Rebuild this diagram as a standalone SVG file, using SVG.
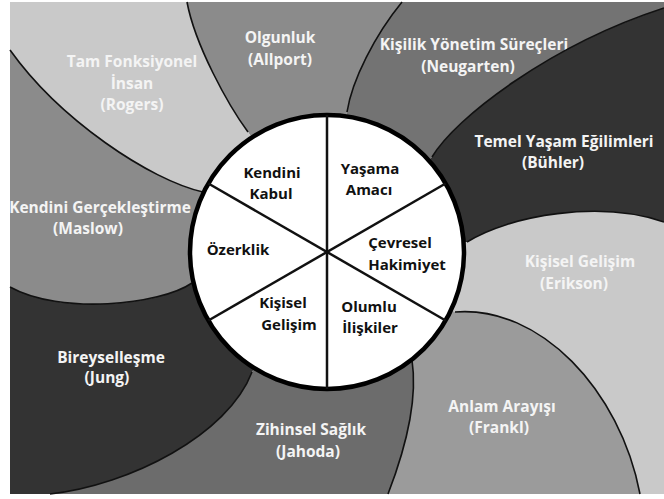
<svg xmlns="http://www.w3.org/2000/svg" width="664" height="499" viewBox="0 0 664 499">
<style>
.lbl{font-family:"Open Sans","Liberation Sans",sans-serif;font-weight:bold;font-size:15.5px;fill:#f4f4f4;text-anchor:middle}
.in{font-family:"Open Sans","Liberation Sans",sans-serif;font-weight:bold;font-size:15px;fill:#111;text-anchor:middle}
.bd{fill:none;stroke:#111;stroke-width:1.6}
.sp{stroke:#111;stroke-width:2.5}
</style>
<rect width="664" height="499" fill="#ffffff"/>
<g id="olgunluk">
<path d="M327,252 L248,132 C228,105 195,45 187,2 L402,2 C375,35 352,80 347,112 Z" fill="#8b8b8b"/>
<text class="lbl" x="280" y="43">Olgunluk</text>
<text class="lbl" x="280" y="65">(Allport)</text>
</g>
<g id="neugarten">
<path d="M327,252 L347,112 C352,80 375,35 402,2 L664,2 L664,8 C550,45 455,118 432,157 Z" fill="#737373"/>
<text class="lbl" x="474" y="50">Kişilik Yönetim Süreçleri</text>
<text class="lbl" x="468" y="72">(Neugarten)</text>
</g>
<g id="buhler">
<path d="M327,252 L432,157 C455,118 550,45 664,8 L664,222 C600,200 510,215 467,242 Z" fill="#333333"/>
<text class="lbl" x="564" y="147">Temel Yaşam Eğilimleri</text>
<text class="lbl" x="553" y="168">(Bühler)</text>
</g>
<g id="erikson">
<path d="M327,252 L467,242 C510,215 600,200 664,222 L664,494 L640,494 C620,390 540,305 455,312 Z" fill="#c9c9c9"/>
<text class="lbl" x="580" y="267">Kişisel Gelişim</text>
<text class="lbl" x="574" y="289">(Erikson)</text>
</g>
<g id="frankl">
<path d="M327,252 L455,312 C540,305 620,390 640,494 L388,494 C405,450 418,400 412,360 Z" fill="#9b9b9b"/>
<text class="lbl" x="502" y="412">Anlam Arayışı</text>
<text class="lbl" x="499" y="433">(Frankl)</text>
</g>
<g id="jahoda">
<path d="M327,252 L412,360 C418,400 405,450 388,494 L50,494 C130,485 228,435 252,372 Z" fill="#6c6c6c"/>
<text class="lbl" x="311" y="435">Zihinsel Sağlık</text>
<text class="lbl" x="308" y="457">(Jahoda)</text>
</g>
<g id="jung">
<path d="M327,252 L252,372 C228,435 130,485 50,494 L10,494 L10,287 C60,315 160,305 192,283 Z" fill="#333333"/>
<text class="lbl" x="111" y="363">Bireyselleşme</text>
<text class="lbl" x="107" y="383">(Jung)</text>
</g>
<g id="maslow">
<path d="M327,252 L192,283 C160,305 60,315 10,287 L10,50 C60,120 150,180 203,192 Z" fill="#8b8b8b"/>
<text class="lbl" x="100" y="213">Kendini Gerçekleştirme</text>
<text class="lbl" x="88" y="234">(Maslow)</text>
</g>
<g id="rogers">
<path d="M327,252 L203,192 C150,180 60,120 10,50 L10,2 L187,2 C195,45 228,105 248,132 Z" fill="#c9c9c9"/>
<text class="lbl" x="132" y="67">Tam Fonksiyonel</text>
<text class="lbl" x="132" y="89">İnsan</text>
<text class="lbl" x="132" y="110">(Rogers)</text>
</g>
<g id="boundaries">
<path class="bd" d="M248,132 C228,105 195,45 187,2"/>
<path class="bd" d="M347,112 C352,80 375,35 402,2"/>
<path class="bd" d="M432,157 C455,118 550,45 664,8"/>
<path class="bd" d="M467,242 C510,215 600,200 664,222"/>
<path class="bd" d="M455,312 C540,305 620,390 640,494"/>
<path class="bd" d="M412,360 C418,400 405,450 388,494"/>
<path class="bd" d="M252,372 C228,435 130,485 50,494"/>
<path class="bd" d="M192,283 C160,305 60,315 10,287"/>
<path class="bd" d="M203,192 C150,180 60,120 10,50"/>
</g>
<g id="wheel">
<circle cx="327" cy="252" r="137" fill="#ffffff" stroke="#000" stroke-width="4.5"/>
<line class="sp" x1="327" y1="115" x2="327" y2="389"/>
<line class="sp" x1="208.4" y1="183.5" x2="445.6" y2="320.5"/>
<line class="sp" x1="208.4" y1="320.5" x2="445.6" y2="183.5"/>
</g>
<g id="kendini-kabul"><text class="in" x="272" y="178">Kendini</text><text class="in" x="271" y="199">Kabul</text></g>
<g id="yasama-amaci"><text class="in" x="370" y="174">Yaşama</text><text class="in" x="369" y="195">Amacı</text></g>
<g id="cevresel-hakimiyet"><text class="in" x="400" y="248">Çevresel</text><text class="in" x="407" y="270">Hakimiyet</text></g>
<g id="olumlu-iliskiler"><text class="in" x="369" y="312">Olumlu</text><text class="in" x="370" y="333">İlişkiler</text></g>
<g id="kisisel-gelisim"><text class="in" x="283" y="308">Kişisel</text><text class="in" x="289" y="330">Gelişim</text></g>
<g id="ozerklik"><text class="in" x="238" y="255">Özerklik</text></g>
</svg>
